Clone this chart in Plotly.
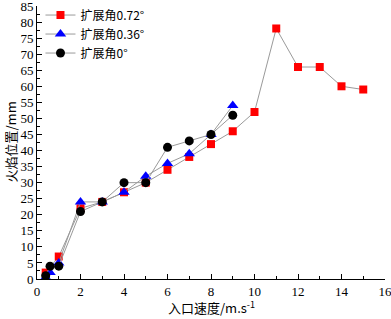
import plotly.graph_objects as go

x_red = [0.4, 1, 2, 3, 4, 5, 6, 7, 8, 9, 10, 11, 12, 13, 14, 15]
y_red = [2, 7, 22, 24, 27, 30, 34, 38, 42, 46, 52, 78, 66, 66, 60, 59]
x_blue = [0.4, 0.6, 1, 2, 3, 4, 5, 6, 7, 8, 9]
y_blue = [0.5, 2, 5, 24, 24, 27, 32, 36, 39, 45, 54]
x_black = [0.4, 0.6, 1, 2, 3, 4, 5, 6, 7, 8, 9]
y_black = [1, 4, 4, 21, 24, 30, 30, 41, 43, 45, 51]
names = ["扩展角0.72°", "扩展角0.36°", "扩展角0°"]
x_title = "入口速度/m.s<sup>-1</sup>"
y_title = "火焰位置/mm"

CJK = "Noto Sans CJK SC"
SERIF = "Liberation Serif"
LINE = "#9a9a9a"

fig = go.Figure()
fig.add_trace(go.Scatter(x=x_red, y=y_red, mode="lines+markers", name=names[0],
                         line=dict(color=LINE, width=1),
                         marker=dict(symbol="square", size=8, color="#ff0000")))
fig.add_trace(go.Scatter(x=x_blue, y=y_blue, mode="lines+markers", name=names[1],
                         line=dict(color=LINE, width=1),
                         marker=dict(symbol="triangle-up", size=10, color="#0000ff")))
fig.add_trace(go.Scatter(x=x_black, y=y_black, mode="lines+markers", name=names[2],
                         line=dict(color=LINE, width=1),
                         marker=dict(symbol="circle", size=9, color="#000000")))

fig.update_layout(
    width=391, height=319,
    margin=dict(l=37, r=6, t=6, b=40, autoexpand=False),
    paper_bgcolor="white", plot_bgcolor="white",
    showlegend=True,
    legend=dict(x=0.01, y=1.02, xanchor="left", yanchor="top",
                font=dict(family=CJK, size=12, color="black"),
                bgcolor="rgba(0,0,0,0)", tracegroupgap=0, itemwidth=30),
    font=dict(family=SERIF, size=12, color="black"),
    annotations=[
        dict(text=x_title, xref="paper", yref="paper", x=0.5, y=0, yshift=-28,
             xanchor="center", yanchor="middle", showarrow=False,
             font=dict(family=CJK, size=13, color="black")),
        dict(text=y_title, xref="paper", yref="paper", x=0, y=0.5, xshift=-27,
             xanchor="center", yanchor="middle", showarrow=False, textangle=-90,
             font=dict(family=CJK, size=13, color="black")),
    ],
)
fig.update_xaxes(range=[0, 16], tickmode="linear", tick0=0, dtick=2,
                 showline=True, linecolor="black", linewidth=1,
                 ticks="inside", ticklen=5, tickcolor="black",
                 minor=dict(ticks="inside", ticklen=3, dtick=1, tickcolor="black"),
                 showgrid=False, zeroline=False, automargin=False,
                 ticklabeloverflow="allow",
                 tickfont=dict(family=SERIF, size=13))
fig.update_yaxes(range=[0, 85], tickmode="linear", tick0=0, dtick=5,
                 showline=True, linecolor="black", linewidth=1,
                 ticks="inside", ticklen=5, tickcolor="black",
                 minor=dict(ticks="inside", ticklen=3, dtick=2.5, tickcolor="black"),
                 showgrid=False, zeroline=False, automargin=False,
                 ticklabeloverflow="allow",
                 tickfont=dict(family=SERIF, size=13))

fig.write_html("out.html", config={"displayModeBar": False},
               post_script="document.body.style.margin='0';document.body.style.overflow='hidden';")
